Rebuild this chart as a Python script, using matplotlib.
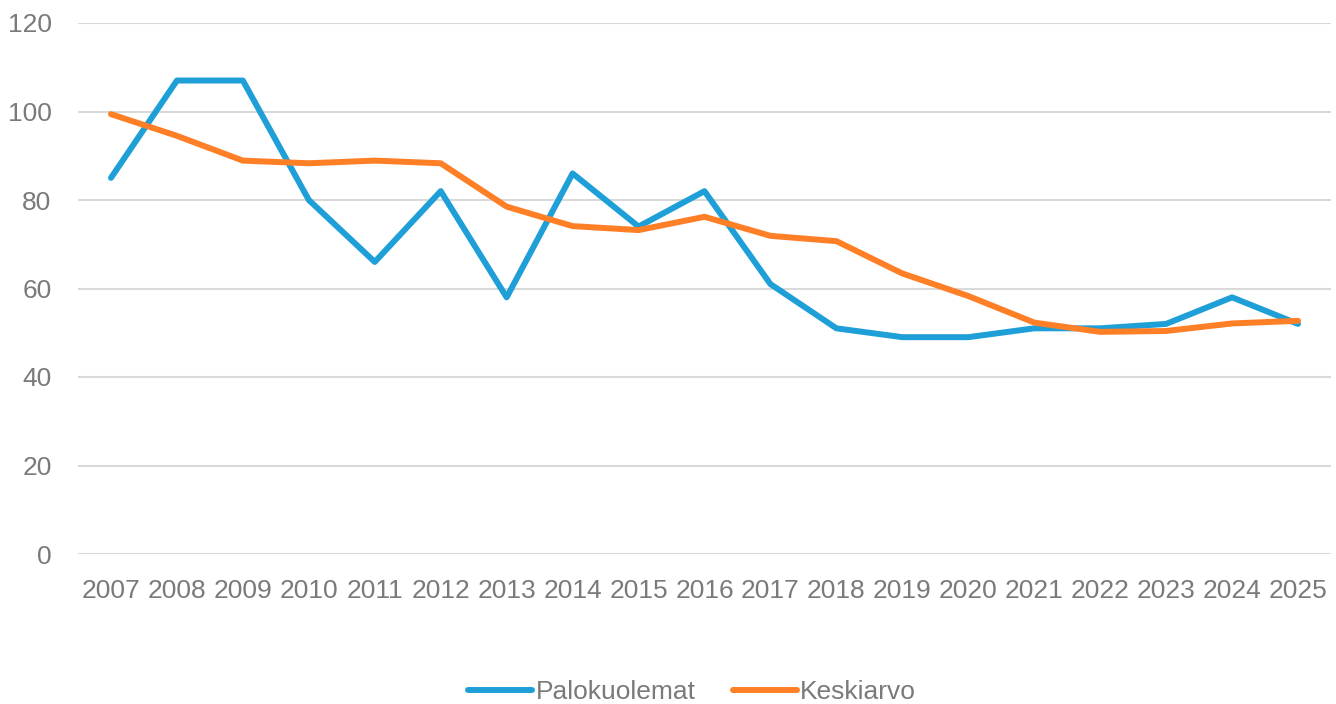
import matplotlib
matplotlib.use("Agg")
import matplotlib.pyplot as plt

# Data
years = [str(y) for y in range(2007, 2026)]
palokuolemat = [85, 107, 107, 80, 66, 82, 58, 86, 74, 82, 61, 51, 49, 49, 51, 51, 52, 58, 52]
keskiarvo = [99.4, 94.5, 88.9, 88.3, 88.9, 88.3, 78.5, 74.1, 73.2, 76.2, 71.9, 70.7,
             63.4, 58.3, 52.3, 50.2, 50.4, 52.1, 52.7]

plt.rcParams['font.family'] = ['Liberation Sans', 'DejaVu Sans']

fig = plt.figure(figsize=(13.36, 7.04), dpi=100)
ax = fig.add_axes([78/1336, 1-554/704, (1331-78)/1336, (554-23)/704])

x = range(len(years))
ax.plot(x, palokuolemat, color='#1F9FD8', lw=4.3, solid_capstyle='round',
        solid_joinstyle='round', label='Palokuolemat', zorder=3)
ax.plot(x, keskiarvo, color='#FF7F27', lw=4.3, solid_capstyle='round',
        solid_joinstyle='round', label='Keskiarvo', zorder=4)

ax.set_xlim(-0.5, len(years) - 0.5)
ax.set_ylim(0, 120)
ax.set_yticks(range(0, 121, 20))
ax.set_xticks(list(x))
ax.set_xticklabels(years)
ax.grid(axis='y', color='#D9D9D9', lw=1.5)
ax.set_axisbelow(True)
for s in ax.spines.values():
    s.set_visible(False)
ax.tick_params(length=0, labelsize=19, labelcolor='#7A7A7A')
ax.tick_params(axis='x', pad=18)
ax.tick_params(axis='y', pad=19)

fig.legend(loc='center', bbox_to_anchor=(692/1336, 1-692/704), ncol=2, frameon=False,
           fontsize=19, labelcolor='#7A7A7A', handlelength=2.45, handletextpad=0.12,
           columnspacing=1.4)

fig.savefig('out.png', dpi=100)
